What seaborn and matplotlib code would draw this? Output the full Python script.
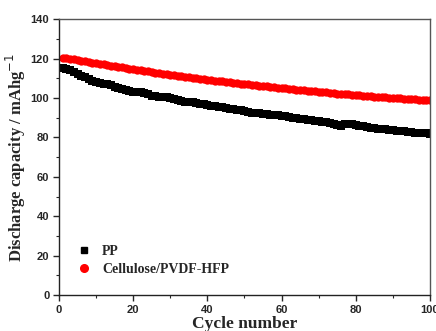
import matplotlib
matplotlib.use("Agg")
import matplotlib.pyplot as plt
import seaborn as sns
import numpy as np
import pandas as pd
from matplotlib.ticker import MultipleLocator
from matplotlib.lines import Line2D

cycles = list(range(1, 101))
pp = [115.5, 114.8, 114.0, 113.0, 112.0, 111.2, 110.5, 109.6, 108.8, 108.0,
      107.5, 107.3, 107.0, 106.5, 105.8, 105.0, 104.4, 104.0, 103.6, 103.3,
      103.2, 103.0, 102.5, 101.8, 101.2, 100.9, 100.7, 100.6, 100.5, 100.2,
      99.6, 99.0, 98.5, 98.2, 98.0, 97.8, 97.5, 97.1, 96.8, 96.5,
      96.2, 95.9, 95.7, 95.4, 95.0, 94.5, 94.2, 94.0, 93.7, 93.3,
      92.9, 92.6, 92.4, 92.2, 92.0, 91.8, 91.6, 91.4, 91.2, 91.0,
      90.8, 90.5, 90.1, 89.8, 89.5, 89.2, 88.9, 88.6, 88.3, 88.1,
      87.9, 87.6, 87.3, 86.9, 86.1, 85.6, 86.6, 87.0, 86.6, 86.2,
      85.9, 85.6, 85.3, 85.0, 84.8, 84.5, 84.3, 84.1, 83.9, 83.7,
      83.5, 83.3, 83.1, 82.9, 82.7, 82.5, 82.3, 82.1, 82.0, 81.9]
cellulose = [120.4, 120.2, 119.9, 119.6, 119.3, 119.0, 118.7, 118.3, 118.0, 117.7,
             117.4, 117.1, 116.8, 116.5, 116.2, 115.9, 115.6, 115.3, 115.0, 114.7,
             114.4, 114.1, 113.8, 113.5, 113.2, 112.9, 112.6, 112.3, 112.1, 111.8,
             111.5, 111.2, 111.0, 110.7, 110.5, 110.3, 110.0, 109.8, 109.6, 109.3,
             109.1, 108.9, 108.6, 108.4, 108.2, 108.0, 107.8, 107.5, 107.3, 107.1,
             106.9, 106.7, 106.5, 106.3, 106.1, 105.9, 105.7, 105.5, 105.3, 105.1,
             104.9, 104.7, 104.5, 104.3, 104.1, 104.0, 103.8, 103.6, 103.4, 103.2,
             103.0, 102.9, 102.7, 102.5, 102.3, 102.2, 102.0, 101.8, 101.7, 101.5,
             101.3, 101.2, 101.0, 100.9, 100.7, 100.6, 100.4, 100.3, 100.1, 100.0,
             99.9, 99.8, 99.6, 99.5, 99.4, 99.3, 99.2, 99.1, 99.0, 98.9]
labels = ["PP", "Cellulose/PVDF-HFP"]
xticks = [0, 20, 40, 60, 80, 100]
yticks = [0, 20, 40, 60, 80, 100, 120, 140]

sns.set_style("white")
plt.rcParams['font.family'] = ['Liberation Sans', 'DejaVu Sans']

fig = plt.figure(figsize=(4.36, 3.31), dpi=100)
ax = fig.add_axes([0.1353, 0.1088, 0.8509, 0.8330])

sns.scatterplot(x=cycles, y=pp, marker='s', color='black', s=28, linewidth=0, ax=ax)
sns.scatterplot(x=cycles, y=cellulose, marker='o', color='#ff0000', s=36, linewidth=0, ax=ax)

ax.set_xlim(0, 100)
ax.set_ylim(0, 140)
ax.set_xticks(xticks)
ax.set_yticks(yticks)
ax.xaxis.set_minor_locator(MultipleLocator(10))
ax.yaxis.set_minor_locator(MultipleLocator(10))
ax.tick_params(which='major', direction='out', length=4, width=1, labelsize=8,
               bottom=True, left=True, top=False, right=False, pad=3)
ax.tick_params(which='minor', direction='out', length=2, width=0.8,
               bottom=True, left=True, top=False, right=False)
for lab in ax.get_xticklabels() + ax.get_yticklabels():
    lab.set_fontweight('bold')
for side in ['left', 'bottom']:
    ax.spines[side].set_color('#222222')
    ax.spines[side].set_linewidth(1.0)
for side in ['top', 'right']:
    ax.spines[side].set_color('#555555')
    ax.spines[side].set_linewidth(1.0)

serif = ['Liberation Serif', 'DejaVu Serif']
ax.set_xlabel("Cycle number", fontsize=12.5, fontweight='bold', family=serif, labelpad=1)
ax.set_ylabel("Discharge capacity / mAhg$^{-1}$", fontsize=12, fontweight='bold',
              family=serif, labelpad=2)

handles = [Line2D([], [], marker='s', color='black', linestyle='none', markersize=5),
           Line2D([], [], marker='o', color='#ff0000', linestyle='none', markersize=5.5)]
ax.legend(handles, labels, loc='lower left', bbox_to_anchor=(0.015, 0.025), frameon=False,
          prop={'family': serif, 'weight': 'bold', 'size': 10}, handletextpad=0.8,
          labelspacing=0.35, handlelength=1.0)

fig.savefig("out.png", dpi=100)
